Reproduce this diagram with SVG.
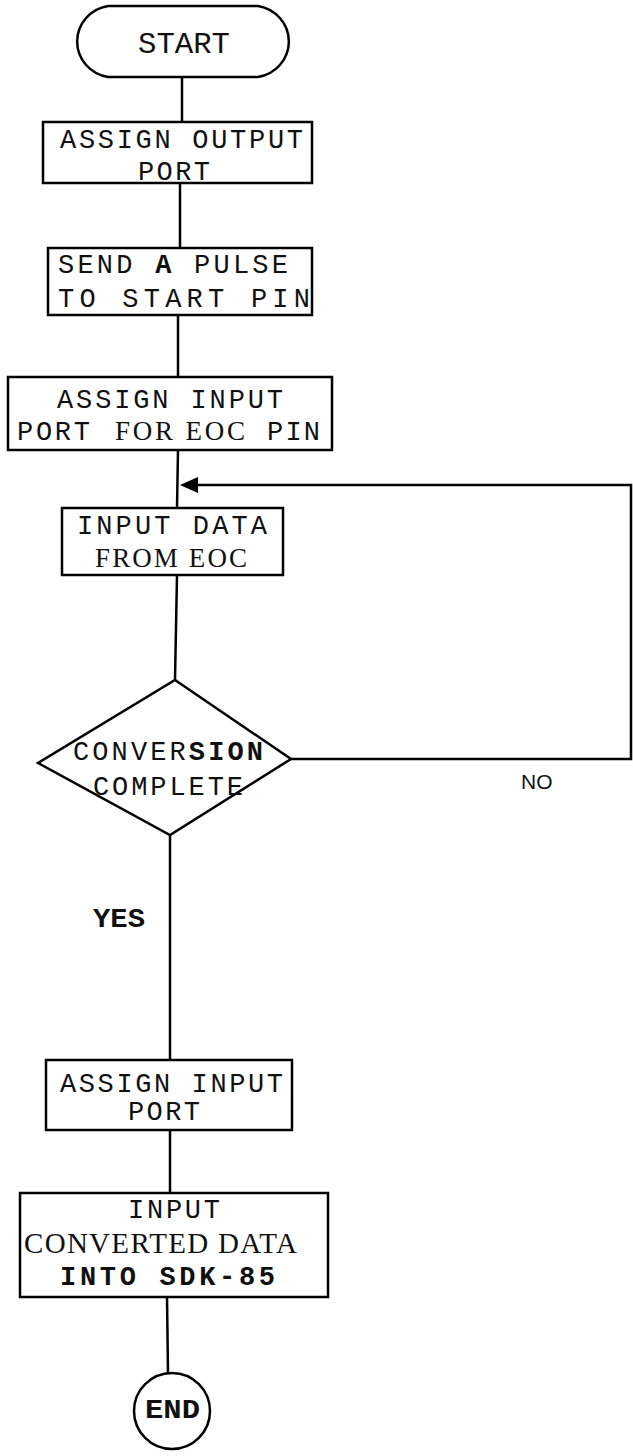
<svg xmlns="http://www.w3.org/2000/svg" width="633" height="1456" viewBox="0 0 633 1456">
<style>
.shape{fill:#fff;stroke:#000;stroke-width:2.5}
.edge{fill:none;stroke:#000;stroke-width:2.5}
.m{font-family:"Liberation Mono","DejaVu Sans Mono",monospace;font-size:27px;fill:#111}
.s{font-family:"Liberation Serif","DejaVu Serif",serif;font-size:27px;fill:#111}
.b{font-weight:bold}
</style>
<rect width="633" height="1456" fill="#fff"/>
<g id="connectors">
<line class="edge" x1="182" y1="78" x2="182" y2="122"/>
<line class="edge" x1="180" y1="183" x2="180" y2="248"/>
<line class="edge" x1="178" y1="315" x2="178" y2="377"/>
<line class="edge" x1="178" y1="450" x2="177" y2="508"/>
<line class="edge" x1="177" y1="575" x2="175" y2="680"/>
<line class="edge" x1="170" y1="835" x2="170" y2="1060"/>
<line class="edge" x1="170" y1="1130" x2="170" y2="1193"/>
<line class="edge" x1="167" y1="1297" x2="168" y2="1373"/>
<path class="edge" d="M291,759 L631,759 L631,485 L196,485"/>
<path d="M180,485 L198,477 L198,493 Z" fill="#000"/>
<text x="521" y="789" style="font-family:'Liberation Sans',sans-serif;font-size:21px;fill:#111">NO</text>
<text class="m b" x="93" y="927" textLength="52" lengthAdjust="spacingAndGlyphs">YES</text>
</g>
<g id="start">
<path class="shape" d="M108,6 L258,6 A37,36 0 0 1 258,77 L108,77 A37,36 0 0 1 108,6 Z"/>
<text class="m" x="138" y="53" style="font-size:30px" textLength="92" lengthAdjust="spacingAndGlyphs">START</text>
</g>
<g id="assign-output">
<rect class="shape" x="43" y="122" width="269" height="61"/>
<text class="m" x="60" y="148" textLength="243" lengthAdjust="spacing">ASSIGN OUTPUT</text>
<text class="m" x="138" y="180" textLength="72" lengthAdjust="spacing">PORT</text>
</g>
<g id="send-pulse">
<rect class="shape" x="48" y="248" width="264" height="67"/>
<text class="m" x="58" y="273" textLength="230" lengthAdjust="spacing">SEND <tspan class="b">A</tspan> PULSE</text>
<text class="m" x="58" y="307" textLength="252" lengthAdjust="spacing">TO START  PIN</text>
</g>
<g id="assign-input-eoc">
<rect class="shape" x="8" y="377" width="324" height="73"/>
<text class="m" x="57" y="408" textLength="226" lengthAdjust="spacing">ASSIGN INPUT</text>
<text class="m" x="17" y="440" textLength="73" lengthAdjust="spacing">PORT</text>
<text class="s" x="115" y="440" textLength="130" lengthAdjust="spacing">FOR EOC</text>
<text class="m" x="267" y="440" textLength="53" lengthAdjust="spacing">PIN</text>
</g>
<g id="input-data">
<rect class="shape" x="62" y="508" width="221" height="67"/>
<text class="m" x="77" y="534" textLength="190" lengthAdjust="spacing">INPUT DATA</text>
<text class="s" x="95" y="567" textLength="152" lengthAdjust="spacing">FROM EOC</text>
</g>
<g id="decision">
<path class="shape" d="M175,680 L291,759 L170,835 L38,763 Z"/>
<text class="m" x="73" y="760" textLength="190" lengthAdjust="spacing">CONVER<tspan class="b">SION</tspan></text>
<text class="m" x="93" y="795" textLength="150" lengthAdjust="spacing">COMPLETE</text>
</g>
<g id="assign-input">
<rect class="shape" x="46" y="1060" width="246" height="70"/>
<text class="m" x="60" y="1092" textLength="223" lengthAdjust="spacing">ASSIGN INPUT</text>
<text class="m" x="128" y="1120" textLength="72" lengthAdjust="spacing">PORT</text>
</g>
<g id="input-converted">
<rect class="shape" x="20" y="1193" width="308" height="104"/>
<text class="m" x="128" y="1218" textLength="92" lengthAdjust="spacing">INPUT</text>
<text class="s" x="24" y="1253" textLength="273" lengthAdjust="spacing" style="font-size:29px">CONVERTED DATA</text>
<text class="m b" x="60" y="1285" textLength="215" lengthAdjust="spacing">INTO SDK-85</text>
</g>
<g id="end">
<circle class="shape" cx="172" cy="1411" r="38"/>
<text class="m b" x="145" y="1418" textLength="55" lengthAdjust="spacingAndGlyphs">END</text>
</g>
</svg>
